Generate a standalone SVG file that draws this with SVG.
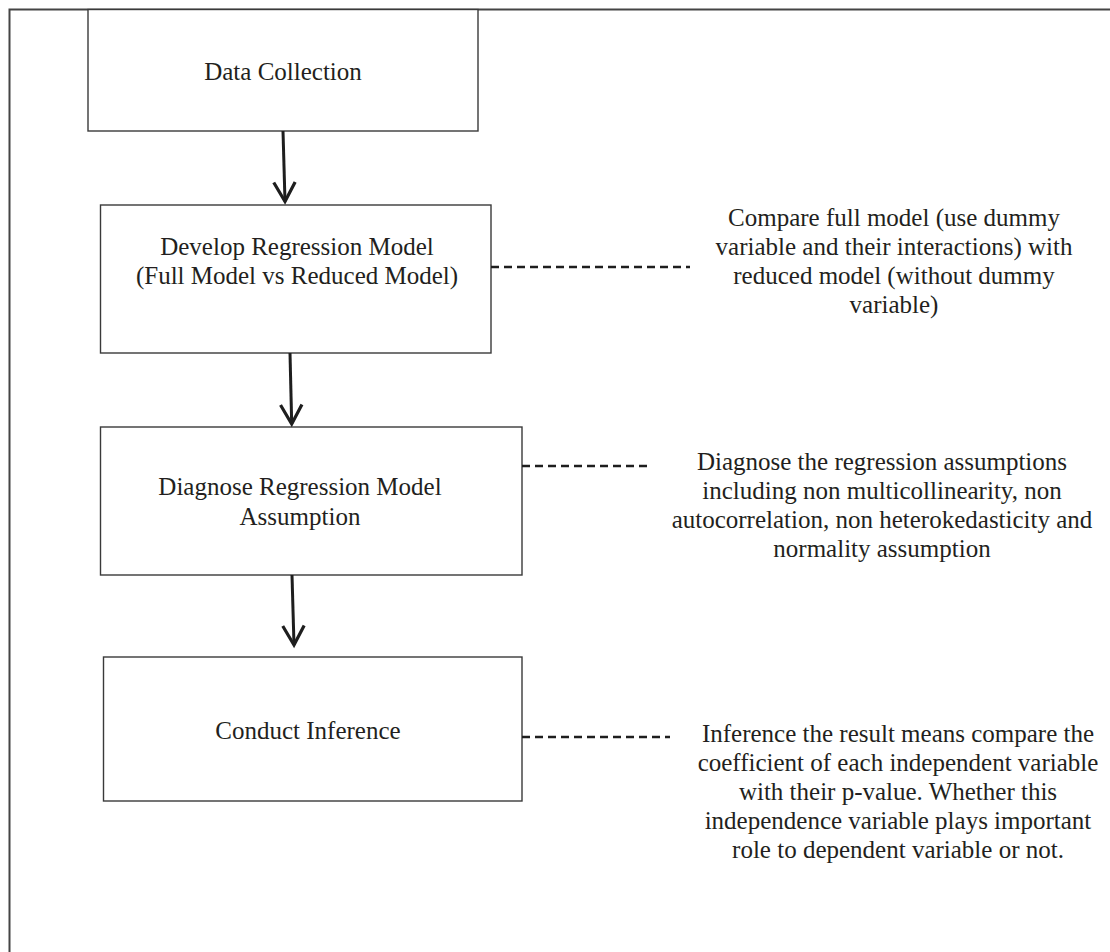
<svg xmlns="http://www.w3.org/2000/svg" width="1110" height="952" viewBox="0 0 1110 952">
<style>
  .box { fill: #ffffff; stroke: #3a3a3a; stroke-width: 1.4; }
  .t { font-family: "Liberation Serif", "Times New Roman", serif; font-size: 25px; fill: #231f20; text-anchor: middle; }
  .arrow { stroke: #1e1e1e; stroke-width: 3; fill: none; marker-end: url(#vhead); }
  .dash { stroke: #1e1e1e; stroke-width: 2.5; fill: none; stroke-dasharray: 8 5; }
  .frame { stroke: #444444; stroke-width: 2; fill: none; }
</style>
<defs>
  <marker id="vhead" markerUnits="userSpaceOnUse" markerWidth="30" markerHeight="30" refX="18" refY="0" viewBox="-2 -14 24 28" orient="auto">
    <path d="M0,-10 L18,0 L0,10" fill="none" stroke="#1e1e1e" stroke-width="3" stroke-linejoin="miter"/>
  </marker>
</defs>
<rect x="0" y="0" width="1110" height="952" fill="#ffffff"/>
<path class="frame" d="M9.5,952 V9.5 H1110"/>

<g id="node-data-collection">
  <rect class="box" x="88" y="9.5" width="390" height="121.5"/>
  <text class="t" x="283" y="80">Data Collection</text>
</g>

<g id="node-develop-model">
  <rect class="box" x="100.5" y="205" width="390.5" height="148"/>
  <text class="t" x="297" y="255">Develop Regression Model</text>
  <text class="t" x="297" y="284">(Full Model vs Reduced Model)</text>
</g>

<g id="node-diagnose">
  <rect class="box" x="100.5" y="427" width="421.5" height="148"/>
  <text class="t" x="300" y="495">Diagnose Regression Model</text>
  <text class="t" x="300" y="525">Assumption</text>
</g>

<g id="node-inference">
  <rect class="box" x="103.5" y="657" width="418.5" height="144"/>
  <text class="t" x="308" y="739">Conduct Inference</text>
</g>

<g id="note-compare">
  <text class="t" x="894" y="226">Compare full model (use dummy</text>
  <text class="t" x="894" y="255">variable and their interactions) with</text>
  <text class="t" x="894" y="284">reduced model (without dummy</text>
  <text class="t" x="894" y="313">variable)</text>
</g>

<g id="note-diagnose">
  <text class="t" x="882" y="470">Diagnose the regression assumptions</text>
  <text class="t" x="882" y="499">including non multicollinearity, non</text>
  <text class="t" x="882" y="528">autocorrelation, non heterokedasticity and</text>
  <text class="t" x="882" y="557">normality assumption</text>
</g>

<g id="note-inference">
  <text class="t" x="898" y="742">Inference the result means compare the</text>
  <text class="t" x="898" y="771">coefficient of each independent variable</text>
  <text class="t" x="898" y="800">with their p-value. Whether this</text>
  <text class="t" x="898" y="829">independence variable plays important</text>
  <text class="t" x="898" y="858">role to dependent variable or not.</text>
</g>

<g id="connectors">
  <line class="arrow" x1="283" y1="131" x2="285" y2="201.5"/>
  <line class="arrow" x1="290" y1="353" x2="291.7" y2="424"/>
  <line class="arrow" x1="292" y1="575" x2="294" y2="645"/>
  <line class="dash" x1="491" y1="267" x2="690" y2="267"/>
  <line class="dash" x1="522" y1="466" x2="647" y2="466"/>
  <line class="dash" x1="522" y1="737" x2="670" y2="737"/>
</g>
</svg>
